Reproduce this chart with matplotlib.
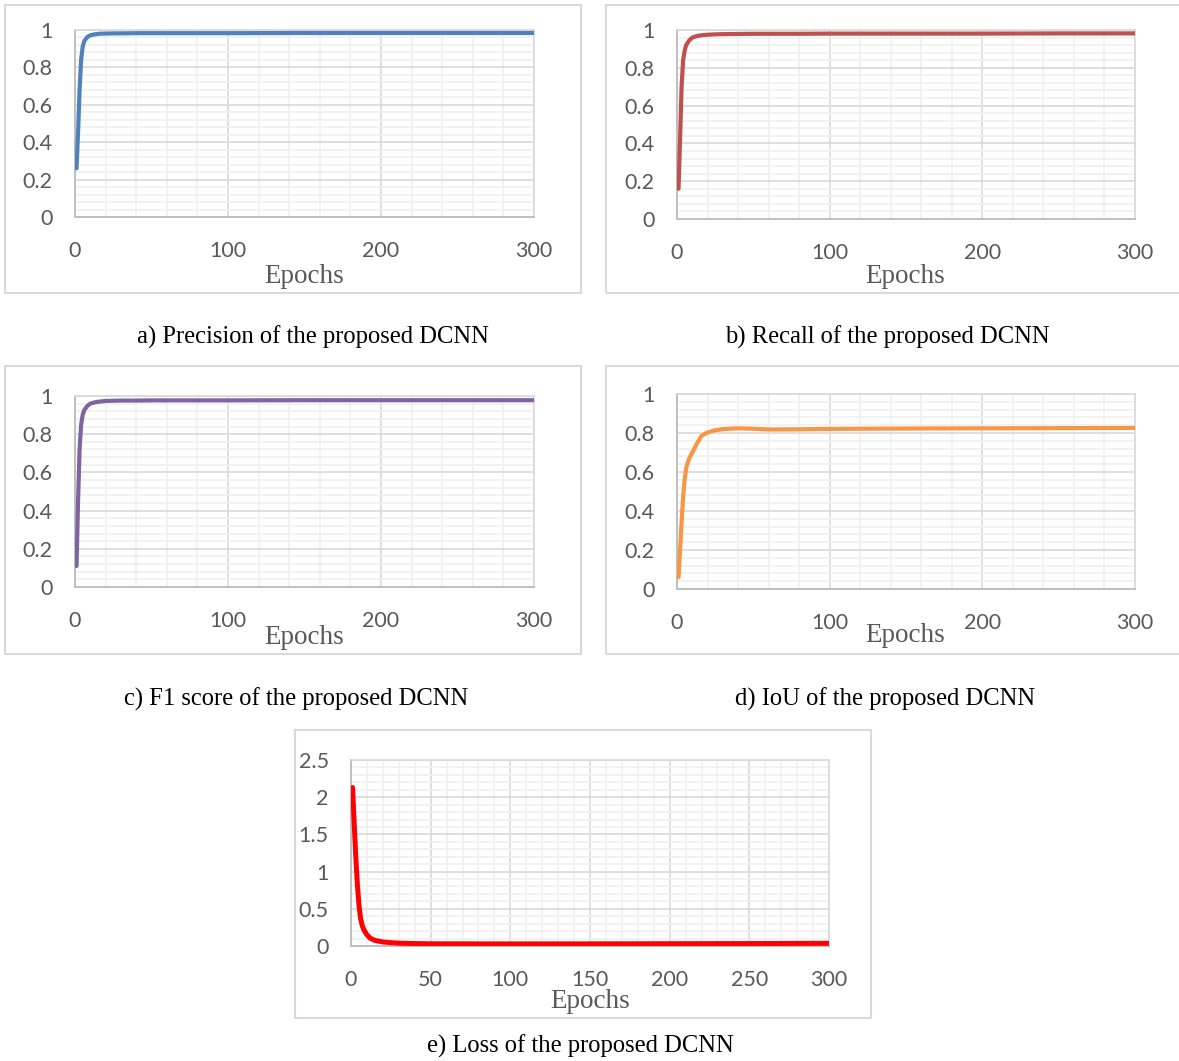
"""
Training curves (precision, recall, F1, IoU, loss) of the proposed DCNN
"""

import matplotlib.pyplot as plt
from matplotlib.patches import Rectangle
from matplotlib.ticker import MultipleLocator

W, H = 1179, 1061

# epochs at which the metric curves were read
epochs = [1, 2, 3, 4, 5, 6, 8, 10, 13, 16, 20, 25, 30, 40, 50, 60, 80, 100, 150, 200, 250, 300]
precision = [0.26, 0.45, 0.68, 0.84, 0.91, 0.94, 0.962, 0.972, 0.977, 0.980, 0.981, 0.982, 0.982,
             0.983, 0.983, 0.983, 0.983, 0.983, 0.984, 0.984, 0.984, 0.984]
recall = [0.16, 0.42, 0.70, 0.84, 0.89, 0.92, 0.945, 0.96, 0.968, 0.972, 0.975, 0.977, 0.978,
          0.979, 0.980, 0.980, 0.980, 0.981, 0.981, 0.981, 0.982, 0.982]
f1 = [0.11, 0.45, 0.72, 0.85, 0.90, 0.925, 0.948, 0.96, 0.967, 0.971, 0.974, 0.975, 0.976,
      0.976, 0.977, 0.977, 0.977, 0.977, 0.978, 0.978, 0.978, 0.978]
iou = [0.06, 0.20, 0.34, 0.47, 0.56, 0.62, 0.67, 0.70, 0.745, 0.785, 0.803, 0.814, 0.820,
       0.824, 0.822, 0.818, 0.819, 0.821, 0.823, 0.824, 0.825, 0.826]

loss_epochs = [1, 2, 3, 4, 5, 6, 7, 8, 10, 12, 15, 20, 25, 30, 40, 50, 100, 150, 200, 250, 300]
loss = [2.13, 1.65, 1.20, 0.83, 0.55, 0.37, 0.28, 0.22, 0.15, 0.105, 0.075, 0.054, 0.045, 0.038,
        0.033, 0.030, 0.028, 0.029, 0.031, 0.033, 0.036]

metric_yticks = [0, 0.2, 0.4, 0.6, 0.8, 1]
metric_ylabels = ["0", "0.2", "0.4", "0.6", "0.8", "1"]
metric_xticks = [0, 100, 200, 300]
loss_yticks = [0, 0.5, 1, 1.5, 2, 2.5]
loss_ylabels = ["0", "0.5", "1", "1.5", "2", "2.5"]
loss_xticks = [0, 50, 100, 150, 200, 250, 300]

captions = ["a) Precision of the proposed DCNN", "b) Recall of the proposed DCNN",
            "c) F1 score of the proposed DCNN", "d) IoU of the proposed DCNN",
            "e) Loss of the proposed DCNN"]

TICK_COLOR = "#595959"


def px_rect(l, t, r, b):
    # pixel box -> figure fraction [left, bottom, width, height]
    return [l / W, 1 - b / H, (r - l) / W, (b - t) / H]


def draw_panel(fig, rect, x, y, color, xticks, yticks, ylabels, ymax, xminor, yminor, xmajor, ymajor, lw=3.0):
    ax = fig.add_axes(px_rect(*rect))
    ax.set_xlim(0, 300)
    ax.set_ylim(0, ymax)
    ax.xaxis.set_major_locator(MultipleLocator(xmajor))
    ax.xaxis.set_minor_locator(MultipleLocator(xminor))
    ax.yaxis.set_major_locator(MultipleLocator(ymajor))
    ax.yaxis.set_minor_locator(MultipleLocator(yminor))
    ax.set_xticks(xticks)
    ax.set_yticks(yticks)
    ax.set_yticklabels(ylabels)
    ax.grid(which="minor", color="#f0f0f0", linewidth=1.2)
    ax.grid(which="major", color="#d9d9d9", linewidth=1.2)
    ax.set_axisbelow(True)
    for side in ["top", "right"]:
        ax.spines[side].set_color("#d9d9d9")
        ax.spines[side].set_linewidth(1.2)
    for side in ["left", "bottom"]:
        ax.spines[side].set_color("#bfbfbf")
        ax.spines[side].set_linewidth(1.4)
    ax.tick_params(which="both", length=0)
    ax.tick_params(axis="x", pad=17)
    ax.tick_params(axis="y", pad=16)
    for lab in ax.get_xticklabels() + ax.get_yticklabels():
        lab.set_fontfamily("Lato")
        lab.set_fontsize(15.5)
        lab.set_color(TICK_COLOR)
    ax.plot(x, y, color=color, linewidth=lw, solid_capstyle="round", zorder=3)
    return ax


def main():
    fig = plt.figure(figsize=(W / 100, H / 100), dpi=100)

    # outer boxes around each chart
    boxes = [(5, 5, 581, 293), (606, 5, 1182, 293), (5, 366, 581, 654),
             (606, 366, 1182, 654), (295, 730, 871, 1018)]
    for l, t, r, b in boxes:
        fig.add_artist(Rectangle((l / W, 1 - b / H), (r - l) / W, (b - t) / H,
                                 transform=fig.transFigure, fill=False,
                                 edgecolor="#d9d9d9", linewidth=1.5))

    draw_panel(fig, (75, 30, 534, 217), epochs, precision, "#4F81BD",
               metric_xticks, metric_yticks, metric_ylabels, 1, 20, 0.04, 100, 0.2)
    draw_panel(fig, (677, 30, 1135, 219), epochs, recall, "#C0504D",
               metric_xticks, metric_yticks, metric_ylabels, 1, 20, 0.04, 100, 0.2)
    draw_panel(fig, (75, 396, 534, 587), epochs, f1, "#8064A2",
               metric_xticks, metric_yticks, metric_ylabels, 1, 20, 0.04, 100, 0.2)
    draw_panel(fig, (677, 394, 1135, 589), epochs, iou, "#F79646",
               metric_xticks, metric_yticks, metric_ylabels, 1, 20, 0.04, 100, 0.2)
    draw_panel(fig, (351, 760, 829, 946), loss_epochs, loss, "#FF0000",
               loss_xticks, loss_yticks, loss_ylabels, 2.5, 10, 0.1, 50, 0.5, lw=3.6)

    # "Epochs" labels
    for x, y in [(304, 276), (905, 276), (304, 637), (905, 635), (590, 1001)]:
        fig.text(x / W, 1 - y / H, "Epochs", ha="center", va="center",
                 family="Liberation Serif", fontsize=19.5, color=TICK_COLOR)

    # captions under the charts
    for (x, y), txt in zip([(313, 337), (887, 337), (296, 699), (885, 699), (580, 1046)], captions):
        fig.text(x / W, 1 - y / H, txt, ha="center", va="center",
                 family="Liberation Serif", fontsize=17.7, color="black")

    fig.savefig("out.png", dpi=100)


if __name__ == "__main__":
    main()
